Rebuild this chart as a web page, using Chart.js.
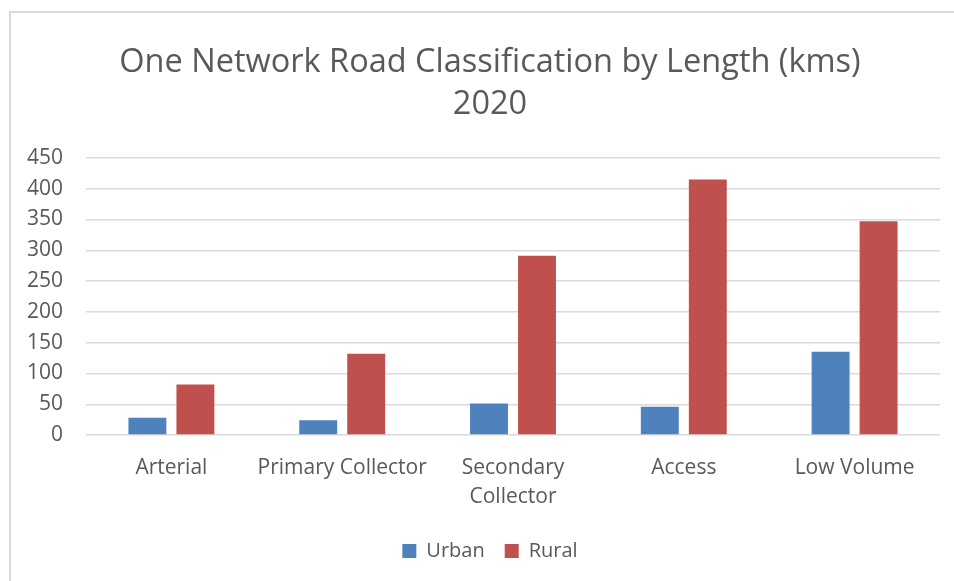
<!DOCTYPE html>
<html>
<head>
<meta charset="utf-8">
<script src="https://cdn.jsdelivr.net/npm/chart.js@4"></script>
<style>
  html, body { margin: 0; padding: 0; background: #fff; }
  #frame {
    position: absolute; left: 9px; top: 11px; width: 945px; height: 570px;
    border-left: 2px solid #d9d9d9; border-top: 2px solid #d9d9d9;
  }
  #wrap { position: absolute; left: 0; top: 0; width: 954px; height: 581px; }
</style>
</head>
<body>
<div id="frame"></div>
<div id="wrap"><canvas id="chart" width="954" height="581"></canvas></div>
<script>
/* ===== data ===== */
const categories = ["Arterial", "Primary Collector", ["Secondary", "Collector"], "Access", "Low Volume"];
const urbanKms = [28, 24, 51, 46, 135];
const ruralKms = [82, 132, 291, 415, 347];
const titleLines = ["One Network Road Classification by Length (kms)", "2020"];

const textGrey = "#595959";
const fontFamily = "'Open Sans', 'Noto Sans', sans-serif";

new Chart(document.getElementById("chart"), {
  type: "bar",
  data: {
    labels: categories,
    datasets: [
      { label: "Urban", data: urbanKms, backgroundColor: "#4f81bd" },
      { label: "Rural", data: ruralKms, backgroundColor: "#c0504d" }
    ]
  },
  options: {
    responsive: false,
    animation: false,
    layout: { padding: { left: 26, right: 0, top: 0, bottom: 10 } },
    datasets: {
      bar: { categoryPercentage: 0.562, barPercentage: 0.79 }
    },
    plugins: {
      title: {
        display: true,
        text: titleLines,
        color: textGrey,
        font: { family: fontFamily, size: 32.5, weight: "normal", lineHeight: 1.29 },
        padding: { top: 42, bottom: 32 }
      },
      legend: {
        position: "bottom",
        labels: {
          color: textGrey,
          boxWidth: 14,
          boxHeight: 14,
          padding: 20,
          font: { family: fontFamily, size: 20 }
        }
      },
      tooltip: { enabled: false }
    },
    scales: {
      x: {
        grid: { display: false },
        border: { display: false },
        ticks: {
          color: textGrey,
          padding: 11,
          maxRotation: 0,
          autoSkip: false,
          font: { family: fontFamily, size: 21, lineHeight: 1.36 }
        },
        afterFit: s => { s.height = 86; }
      },
      y: {
        min: 0,
        max: 450,
        grid: { color: "#d9d9d9", lineWidth: 1.4, drawTicks: false },
        border: { display: false },
        ticks: {
          stepSize: 50,
          color: textGrey,
          padding: 23,
          font: { family: fontFamily, size: 21 }
        },
        afterFit: s => { s.width = 60; }
      },
      // empty spacer on the right so the plot ends where the original does
      spacer: {
        type: "linear",
        position: "right",
        grid: { drawOnChartArea: false, drawTicks: false },
        border: { display: false },
        ticks: { display: false },
        afterFit: s => { s.width = 14; }
      }
    }
  }
});
</script>
</body>
</html>
